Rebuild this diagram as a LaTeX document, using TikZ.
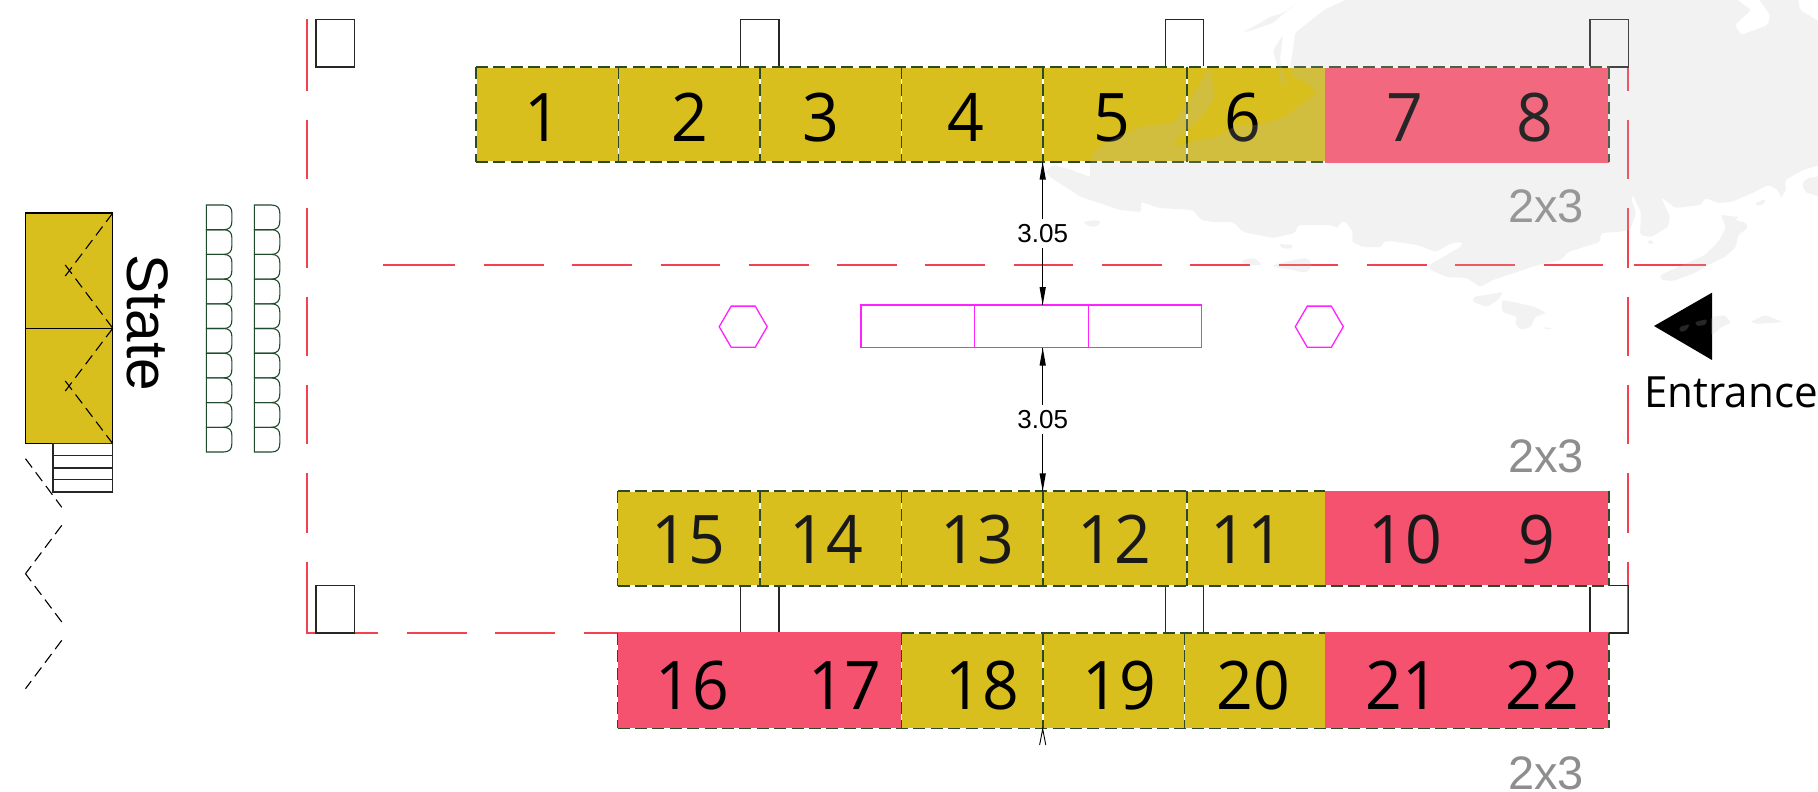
\documentclass[tikz,border=0pt]{standalone}
\usepackage{fontspec}
\setmainfont{Liberation Sans}
\newfontfamily\numfont[FakeStretch=0.96]{Open Sans}
\newfontfamily\entfont[FakeStretch=0.98]{Open Sans}
\definecolor{cellyellow}{HTML}{D8BF1E}
\definecolor{cellpink}{HTML}{F5526F}
\definecolor{cellpinkup}{HTML}{FF5470}
\definecolor{framered}{HTML}{F5414F}
\definecolor{rulegreen}{HTML}{2C4A26}
\definecolor{chairgreen}{HTML}{1F4A2C}
\definecolor{tagblue}{HTML}{8E8E8E}
\definecolor{landgray}{HTML}{BEBEBE}
\definecolor{tablepink}{HTML}{FF22FF}
\tikzset{
  x=1pt,y=-1pt,
  frameline/.style={framered,line width=1.5pt},
  post/.style={black!85,line width=1.3pt},
  gapline/.style={white,line width=1.7pt},
  cellline/.style={rulegreen,line width=1.7pt,dash pattern=on 12pt off 5.4pt},
  num/.style={anchor=base,inner sep=0pt,font=\numfont\fontsize{67}{67}\selectfont},
  tag/.style={anchor=base,inner sep=0pt,text=tagblue,font=\fontsize{47}{47}\selectfont},
  dimlabel/.style={fill=white,inner sep=5pt,font=\fontsize{26}{26}\selectfont},
  dimline/.style={black,line width=1.1pt},
  dimhead/.style={black,fill=black,line width=0.3pt},
  table line/.style={draw=tablepink,line width=1.3pt},
  stagedash/.style={black,line width=1.1pt,dash pattern=on 11pt off 6pt},
  chair/.style={chairgreen,line width=1.1pt},
  land/.style={fill=landgray,fill opacity=0.2,rounded corners=2pt},
}
\newcommand{\cellrule}[1]{\draw[gapline] #1; \draw[cellline] #1;}
\newcommand{\chairrow}[1]{%
  \foreach \k in {0,...,9}{%
    \pgfmathsetmacro{\yy}{205+24.7*\k}%
    \draw[chair] (#1,\yy) -- (#1+17,\yy) .. controls (#1+23,\yy) and (#1+25.5,\yy+3) .. (#1+25.5,\yy+8)
      -- (#1+25.5,\yy+16) .. controls (#1+25.5,\yy+22) and (#1+23,\yy+24.7) .. (#1+17,\yy+24.7) -- (#1,\yy+24.7) -- cycle;
  }}
\newcommand{\hexa}[2]{\draw[table line] (#1-24,#2) -- (#1-12,#2-20.6) -- (#1+12,#2-20.6) -- (#1+24,#2) -- (#1+12,#2+20.6) -- (#1-12,#2+20.6) -- cycle;}
\begin{document}
\begin{tikzpicture}
\useasboundingbox (0,0) rectangle (1818,792);
% ---------- red frame
\draw[frameline] (306.9,19.3) -- (306.9,91);
\draw[frameline] (306.9,562) -- (306.9,633) -- (377.6,633);
\draw[frameline] (1627.8,67) -- (1627.8,91);
\draw[frameline] (1627.8,562) -- (1627.8,633);
\foreach \k in {0,...,4}{
  \pgfmathsetmacro{\a}{120+88.3*\k}\pgfmathsetmacro{\b}{\a+59.4}
  \draw[frameline] (306.9,\a) -- (306.9,\b);
  \draw[frameline] (1627.8,\a) -- (1627.8,\b);
}
\foreach \k in {0,...,13}{
  \pgfmathsetmacro{\a}{407+88.3*\k}\pgfmathsetmacro{\b}{\a+59.6}
  \draw[frameline] (\a,633) -- (\b,633);
}
\draw[frameline] (383.4,265) -- (454.9,265);
\foreach \k in {0,...,12}{
  \pgfmathsetmacro{\a}{483.9+88.3*\k}\pgfmathsetmacro{\b}{\a+59.7}
  \draw[frameline] (\a,265) -- (\b,265);
}
\draw[frameline] (1634,265) -- (1705.5,265);
% ---------- posts
\foreach \xa in {316,740.5,1165.2,1590}{
  \draw[post] (\xa,19.3) rectangle (\xa+38.4,67);
  \draw[post] (\xa,585.5) rectangle (\xa+38.4,633);
}
% ---------- stage
\fill[cellyellow] (25.5,213) rectangle (112.8,443.7);
\draw[black,line width=1.3pt] (25.5,213) rectangle (112.8,443.7);
\draw[black,line width=1.3pt] (25.5,328.3) -- (112.8,328.3);
\draw[stagedash] (112.8,213) -- (65.3,276);
\draw[stagedash] (65.3,265) -- (112.8,328.3);
\draw[stagedash] (112.8,328.3) -- (65.3,391);
\draw[stagedash] (65.3,381) -- (112.8,443.7);
\draw[post] (53,443.7) rectangle (112.8,492);
\foreach \yy in {455.3,468,479.7}{\draw[post] (53,\yy) -- (112.8,\yy);}
\draw[stagedash] (25.5,458.7) -- (61.8,507.3);
\draw[stagedash] (61.8,525.3) -- (25.5,573.7);
\draw[stagedash] (61.8,622) -- (25.5,573.7);
\draw[stagedash] (61.8,640.3) -- (25.5,688.7);
\node[anchor=base west,rotate=-90,inner sep=0pt,font=\fontsize{58.5}{58.5}\selectfont] (stage) at (127.5,254) {State};
% ---------- chairs
\chairrow{206.4}
\chairrow{254.3}
% ---------- booth rows
\fill[cellyellow] (476,66.7) rectangle (1324.8,161.7);
\fill[cellpinkup] (1324.8,66.7) rectangle (1609.3,163);
\cellrule{(476,66.7) -- (1609.3,66.7)}
\cellrule{(476,161.7) -- (1324.8,161.7)}
\foreach \xa in {476,618.4,759.8,901.6,1042.7,1187.3,1609.3}{\cellrule{(\xa,66.7) -- (\xa,161.7)}}
\fill[cellyellow] (617.6,491.3) rectangle (1324.8,586.3);
\fill[cellpink] (1324.8,491) rectangle (1609.3,586);
\cellrule{(617.6,491.3) -- (1324.8,491.3)}
\cellrule{(617.6,586.3) -- (1609.3,586.3)}
\foreach \xa in {617.6,759.8,901.6,1042.7,1187.3,1609.3}{\cellrule{(\xa,491.3) -- (\xa,586.3)}}
\fill[cellpink] (617.6,632.3) rectangle (901.6,728);
\fill[cellyellow] (901.6,634.3) rectangle (1324.8,729.3);
\fill[cellpink] (1324.8,632.3) rectangle (1609.3,728);
\cellrule{(901.6,632.9) -- (1324.8,632.9)}
\cellrule{(617.6,728.5) -- (1609.3,728.5)}
\foreach \xa in {617.6,901.6,1042.7,1184.5,1609.3}{\cellrule{(\xa,632.7) -- (\xa,728)}}
% ---------- numbers
\foreach \n/\xa in {1/543,2/690,3/820.5,4/966,5/1112,6/1243,7/1405,8/1535}{
  \node[num] (n\n) at (\xa,141.7) {\n};}
\foreach \n/\xa in {15/688,14/826,13/977,12/1114.6,11/1247.6,10/1405,9/1536.6}{
  \node[num,text=black!90] (n\n) at (\xa,563.7) {\n};}
\foreach \n/\xa in {16/692.6,17/844.8,18/982,19/1119,20/1253.7,21/1402.5,22/1542.4}{
  \node[num] (n\n) at (\xa,709.7) {\n};}
\node[tag] (tagA) at (1546,222.5) {2x3};
\node[tag] (tagB) at (1546,472) {2x3};
\node[tag] (tagC) at (1546,789) {2x3};
% ---------- tables
\node[table line,minimum width=113.3pt,minimum height=42.7pt,inner sep=0pt,outer sep=0pt] (tableA) at (917.65,326.35) {};
\node[table line,minimum width=114pt,minimum height=42.7pt,inner sep=0pt,outer sep=0pt] (tableB) at (1031.3,326.35) {};
\node[table line,minimum width=112.9pt,minimum height=42.7pt,inner sep=0pt,outer sep=0pt] (tableC) at (1144.75,326.35) {};
\hexa{743.2}{326.7}
\hexa{1319.3}{326.7}
% ---------- dimensions
\coordinate (upTop) at (1042.7,161.7);
\coordinate (upBot) at (1042.7,305);
\coordinate (lowTop) at (1042.7,347.7);
\coordinate (lowBot) at (1042.7,491.3);
\coordinate (capTip) at (1042.7,729);
\draw[dimline] (upTop) -- (upBot);
\draw[dimline] (lowTop) -- (lowBot);
\fill[dimhead] (upTop) -- ++(-3.2,18) -- ++(6.4,0) -- cycle;
\fill[dimhead] (upBot) -- ++(-3.2,-18) -- ++(6.4,0) -- cycle;
\fill[dimhead] (lowTop) -- ++(-3.2,18) -- ++(6.4,0) -- cycle;
\fill[dimhead] (lowBot) -- ++(-3.2,-18) -- ++(6.4,0) -- cycle;
\draw[black,line width=0.9pt] (1039.6,745) -- (capTip) -- (1045.8,745);
\node[dimlabel] (dimA) at (1042.7,233.5) {3.05};
\node[dimlabel] (dimB) at (1042.7,419.5) {3.05};
% ---------- entrance
\fill[black] (1654,326) -- (1712,292.7) -- (1712,360) -- cycle;
\node[anchor=base west,inner sep=0pt,font=\entfont\fontsize{43}{43}\selectfont] (entrance) at (1644,407) {Entrance};
% ---------- faint map on top
\fill[land] (1349,-2) -- (1735,-2) -- (1751,10) -- (1735,25) -- (1741,35) -- (1768,25) -- (1770,15) -- (1758,-2) -- (1798,-2)
 -- (1800,10) -- (1820,22) -- (1820,165) -- (1803,170) -- (1785,180) -- (1786,190) -- (1781,198) -- (1778,190) -- (1768,185)
 -- (1748,195) -- (1731,202) -- (1718,203) -- (1705,198) -- (1701,205) -- (1675,208) -- (1661,197) -- (1670,217) -- (1668,227)
 -- (1651,237) -- (1640,235) -- (1641,213) -- (1633,195) -- (1631,198) -- (1636,213) -- (1630,230) -- (1618,232) -- (1601,233)
 -- (1600,242) -- (1581,248) -- (1568,252) -- (1561,260) -- (1538,265) -- (1517,272) -- (1493,280) -- (1480,287) -- (1467,278)
 -- (1447,277) -- (1430,270) -- (1429,265) -- (1462,246) -- (1462,242) -- (1452,243) -- (1436,252) -- (1417,245) -- (1390,241)
 -- (1383,242) -- (1382,247) -- (1363,247) -- (1352,242) -- (1353,232) -- (1345,221) -- (1340,223) -- (1338,228) -- (1330,225)
 -- (1298,225) -- (1295,233) -- (1273,238) -- (1243,232) -- (1233,222) -- (1212,222) -- (1201,220) -- (1193,210) -- (1159,208)
 -- (1141,202) -- (1141,212) -- (1120,210) -- (1081,197) -- (1050,177) -- (1045,172) -- (1053,165) -- (1072,170) -- (1090,177)
 -- (1090,162) -- (1095,150) -- (1105,143) -- (1140,127) -- (1173,123) -- (1187,103) -- (1210,68) -- (1215,97) -- (1203,115)
 -- (1175,141) -- (1177,147) -- (1197,140) -- (1217,137) -- (1237,125) -- (1257,125) -- (1283,118) -- (1317,93) -- (1307,83)
 -- (1293,77) -- (1290,67) -- (1293,50) -- (1295,33) -- (1324,10) -- cycle;
\fill[land] (1739,217) -- (1735,220) -- (1746,223) -- (1748,228) -- (1738,235) -- (1736,247) -- (1725,257) -- (1708,265) -- (1695,273)
 -- (1673,281) -- (1661,280) -- (1660,275) -- (1678,267) -- (1705,255) -- (1718,242) -- (1726,228) -- (1721,215) -- cycle;
\fill[land] (1802,183) -- (1808,178) -- (1820,176) -- (1820,197) -- (1805,192) -- cycle;
\fill[land] (1243,32) -- (1253,27) -- (1270,17) -- (1283,13) -- (1297,3) -- (1288,10) -- (1273,23) -- (1253,30) -- cycle;
\fill[land] (1273,50) -- (1283,35) -- (1280,60) -- (1286,83) -- (1282,87) -- (1277,65) -- cycle;
\fill[land] (1083,222) -- (1095,220) -- (1101,222) -- (1096,227) -- (1088,226) -- cycle;
\fill[land] (1242,260) -- (1255,258) -- (1262,265) -- (1252,265) -- (1242,263) -- cycle;
\fill[land] (1279,244) -- (1293,245) -- (1293,248) -- (1283,249) -- cycle;
\fill[land] (1273,265) -- (1285,262) -- (1298,259) -- (1308,258) -- (1312,265) -- (1308,272) -- (1300,272) -- (1293,270) -- (1273,267) -- cycle;
\fill[land] (1473,297) -- (1503,292) -- (1498,300) -- (1487,307) -- (1473,302) -- cycle;
\fill[land] (1502,300) -- (1518,303) -- (1535,307) -- (1546,313) -- (1535,317) -- (1531,327) -- (1520,330) -- (1515,323) -- (1517,317) -- (1502,312) -- cycle;
\fill[land] (1711,317) -- (1725,315) -- (1731,323) -- (1721,327) -- (1715,333) -- (1711,335) -- cycle;
\fill[land] (1750,322) -- (1765,315) -- (1783,322) -- (1758,324) -- cycle;
\fill[land] (1679,327) -- (1690,324) -- (1686,331) -- (1680,332) -- cycle;
\fill[land] (1695,322) -- (1707,319) -- (1706,325) -- (1696,326) -- cycle;
\fill[land] (1755,203) -- (1766,199) -- (1763,205) -- (1757,206) -- cycle;
\fill[land] (1647,241) -- (1653,240) -- (1653,244) -- (1648,244) -- cycle;
\fill[land] (1544,327) -- (1551,328) -- (1551,329) -- (1544,329) -- cycle;
\end{tikzpicture}
\end{document}
